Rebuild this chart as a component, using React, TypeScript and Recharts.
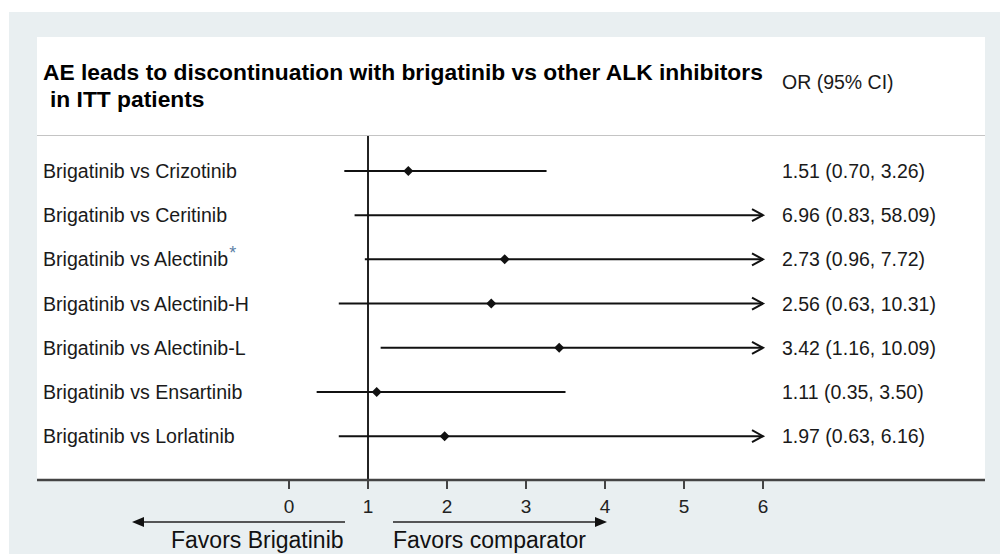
import { ComposedChart, ReferenceLine, Scatter, XAxis, YAxis } from "recharts";

const comparators = [
  "Crizotinib",
  "Ceritinib",
  "Alectinib",
  "Alectinib-H",
  "Alectinib-L",
  "Ensartinib",
  "Lorlatinib",
];
const oddsRatios = [1.51, 6.96, 2.73, 2.56, 3.42, 1.11, 1.97];
const ciLow = [0.7, 0.83, 0.96, 0.63, 1.16, 0.35, 0.63];
const ciHigh = [3.26, 58.09, 7.72, 10.31, 10.09, 3.5, 6.16];
const starred = ["Alectinib"];
const xTicks = [0, 1, 2, 3, 4, 5, 6];

const X_CAP = 6;
const X_MIN = -3.19;
const X_MAX = 8.81;

const INK = "#111";
const FONT = '"Liberation Sans", Arial, sans-serif';

const rows = comparators.map((name, i) => ({
  name,
  row: i,
  or: oddsRatios[i],
  lo: ciLow[i],
  hi: ciHigh[i],
}));

const ArrowEnd = (p: any) =>
  p.payload?.end ? (
    <path
      d={`M${p.cx - 11},${p.cy - 6} L${p.cx},${p.cy} L${p.cx - 11},${p.cy + 6}`}
      fill="none"
      stroke={INK}
      strokeWidth={2}
    />
  ) : (
    <g />
  );

const Diamond = (p: any) => (
  <polygon
    points={`${p.cx},${p.cy - 5} ${p.cx + 5},${p.cy} ${p.cx},${p.cy + 5} ${p.cx - 5},${p.cy}`}
    fill={INK}
  />
);

const RowLabel = (p: any) => (
  <text x={p.cx + 6} y={p.cy} dy="0.36em" fontSize={19.6} fill="#1a1a1a" fontFamily={FONT}>
    {`Brigatinib vs ${p.payload.name}`}
    {starred.includes(p.payload.name) && (
      <tspan dy={-7} dx={1} fontSize={18} fill="#5b7fa6">
        *
      </tspan>
    )}
  </text>
);

const OrLabel = (p: any) => (
  <text x={p.cx + 19} y={p.cy} dy="0.36em" fontSize={19.5} fill="#1a1a1a" fontFamily={FONT}>
    {`${p.payload.or.toFixed(2)} (${p.payload.lo.toFixed(2)}, ${p.payload.hi.toFixed(2)})`}
  </text>
);

export default function App() {
  return (
    <div style={{ position: "fixed", left: 0, top: 0, width: 1000, height: 554, background: "#fff", fontFamily: FONT }}>
      <div style={{ position: "absolute", left: 9, top: 12, width: 991, height: 542, background: "#e9eff1" }} />
      <div style={{ position: "absolute", left: 37, top: 37, width: 948, height: 443, background: "#fff" }} />
      <div style={{ position: "absolute", left: 37, top: 135, width: 948, height: 1, background: "#c4c4c4" }} />

      <div style={{ position: "absolute", left: 0, top: 0 }}>
        <ComposedChart width={1000} height={554} margin={{ top: 136, right: 15, bottom: 34, left: 37 }}>
          <XAxis
            dataKey="x"
            type="number"
            domain={[X_MIN, X_MAX]}
            allowDataOverflow
            ticks={xTicks}
            height={40}
            tickSize={9}
            tickMargin={11}
            axisLine={{ stroke: "#444", strokeWidth: 2.5 }}
            tickLine={{ stroke: "#444", strokeWidth: 2 }}
            tick={{ fontSize: 19, fill: "#222", fontFamily: FONT }}
          />
          <YAxis dataKey="y" type="number" domain={[-0.79, 6.99]} reversed hide />
          <ReferenceLine x={1} stroke="#222" strokeWidth={2} />
          {rows.map((r) => (
            <Scatter
              key={r.name}
              data={[
                { x: r.lo, y: r.row, end: false },
                { x: Math.min(r.hi, X_CAP), y: r.row, end: r.hi > X_CAP },
              ]}
              line={{ stroke: INK, strokeWidth: 2 }}
              shape={ArrowEnd}
              isAnimationActive={false}
            />
          ))}
          <Scatter
            data={rows.filter((r) => r.or <= X_CAP).map((r) => ({ x: r.or, y: r.row }))}
            shape={Diamond}
            isAnimationActive={false}
          />
          <Scatter
            data={rows.map((r) => ({ ...r, x: X_MIN, y: r.row }))}
            shape={RowLabel}
            isAnimationActive={false}
          />
          <Scatter
            data={rows.map((r) => ({ ...r, x: X_CAP, y: r.row }))}
            shape={OrLabel}
            isAnimationActive={false}
          />
        </ComposedChart>
      </div>

      <svg width={1000} height={554} style={{ position: "absolute", left: 0, top: 0, pointerEvents: "none" }}>
        <text x={43} y={80} fontSize={22.8} fontWeight="bold" fill="#000" fontFamily={FONT}>
          AE leads to discontinuation with brigatinib vs other ALK inhibitors
        </text>
        <text x={50} y={107} fontSize={22.8} fontWeight="bold" fill="#000" fontFamily={FONT}>
          in ITT patients
        </text>
        <text x={782} y={89} fontSize={19.5} fill="#1a1a1a" fontFamily={FONT}>
          OR (95% CI)
        </text>

        <line x1={345} y1={522} x2={142} y2={522} stroke="#222" strokeWidth={1.3} />
        <polygon points="132,522 144,517 144,527" fill="#111" />
        <line x1={393} y1={522} x2={597} y2={522} stroke="#222" strokeWidth={1.3} />
        <polygon points="607,522 595,517 595,527" fill="#111" />
        <text x={171} y={548} fontSize={23} fill="#111" fontFamily={FONT}>
          Favors Brigatinib
        </text>
        <text x={393} y={548} fontSize={23} fill="#111" fontFamily={FONT}>
          Favors comparator
        </text>
      </svg>
    </div>
  );
}
